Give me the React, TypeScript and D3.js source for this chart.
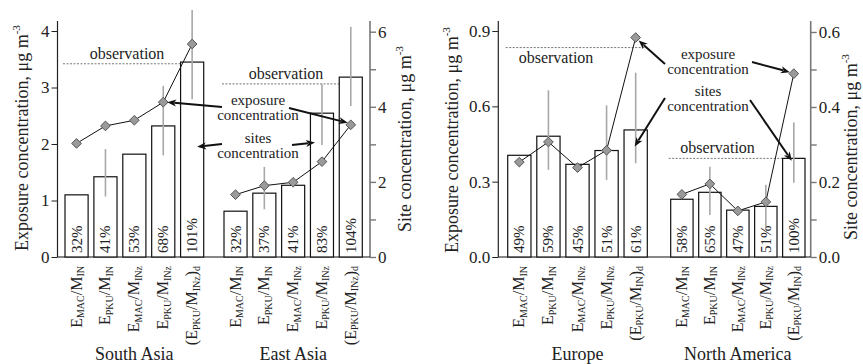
import * as d3 from "d3";
import { useEffect, useRef } from "react";

const W = 863;
const H = 364;
const FONT = "'Liberation Serif', 'Times New Roman', serif";

// category labels (markup: _{...} is a subscript)
const catsAsia = ["E_{MAC}/M_{IN}", "E_{PKU}/M_{IN}", "E_{MAC}/M_{INz}", "E_{PKU}/M_{INz}", "(E_{PKU}/M_{INz})_{d}"];
const catsEuNa = ["E_{MAC}/M_{IN}", "E_{PKU}/M_{IN}", "E_{MAC}/M_{INz}", "E_{PKU}/M_{INz}", "(E_{PKU}/M_{IN})_{d}"];

// South Asia (left axis)
const saSites = [1.1, 1.42, 1.82, 2.32, 3.45];
const saExposure = [2.01, 2.32, 2.42, 2.74, 3.77];
const saErrLo = [null, 1.07, null, 1.8, 2.79];
const saErrHi = [null, 1.91, null, 3.03, 4.37];
const saPct = ["32%", "41%", "53%", "68%", "101%"];
const saObs = 3.42;

// East Asia (right axis)
const eaSites = [1.22, 1.7, 1.91, 3.83, 4.79];
const eaExposure = [1.66, 1.9, 1.99, 2.54, 3.52];
const eaErrLo = [null, 1.27, null, 2.98, 4.02];
const eaErrHi = [null, 2.4, null, 4.61, 6.13];
const eaPct = ["32%", "37%", "41%", "83%", "104%"];
const eaObs = 4.61;

// Europe (left axis)
const euSites = [0.405, 0.481, 0.369, 0.424, 0.506];
const euExposure = [0.378, 0.458, 0.356, 0.425, 0.874];
const euErrLo = [null, 0.347, null, 0.307, 0.373];
const euErrHi = [null, 0.664, null, 0.604, 0.734];
const euPct = ["49%", "59%", "45%", "51%", "61%"];
const euObs = 0.834;

// North America (right axis)
const naSites = [0.154, 0.1725, 0.125, 0.135, 0.263];
const naExposure = [0.167, 0.195, 0.123, 0.147, 0.489];
const naErrLo = [null, 0.112, null, 0.081, 0.198];
const naErrHi = [null, 0.241, null, 0.193, 0.359];
const naPct = ["58%", "65%", "47%", "51%", "100%"];
const naObs = 0.263;

const leftTicksA = [0, 1, 2, 3, 4];
const rightTicksA = [0, 1, 2, 3, 4, 5, 6];
const rightLabelsA = [0, 2, 4, 6];
const leftTicksB = [0, 0.3, 0.6, 0.9];
const rightTicksB = [0, 0.1, 0.2, 0.3, 0.4, 0.5, 0.6];
const rightLabelsB = [0, 0.2, 0.4, 0.6];

const BASE = 257;

function richText(sel: any, str: string, big: number, small: number) {
  const parts = str.split(/(_\{[^}]*\})/).filter((s) => s.length);
  let prevSub = false;
  parts.forEach((p) => {
    const sub = p.startsWith("_{");
    const t = sub ? p.slice(2, -1) : p;
    const dy = sub && !prevSub ? 2.5 : !sub && prevSub ? -2.5 : 0;
    sel.append("tspan").attr("font-size", sub ? small : big).attr("dy", dy).text(t);
    prevSub = sub;
  });
}

function axisTitle(g: any, x: number, y: number, main: string, size: number) {
  const t = g
    .append("text")
    .attr("transform", `translate(${x},${y}) rotate(-90)`)
    .attr("text-anchor", "middle")
    .attr("font-size", size)
    .attr("fill", "#222");
  t.append("tspan").text(main);
  t.append("tspan").attr("font-size", size * 0.62).attr("dy", -size * 0.42).text("-3");
}

function drawGroup(g: any, grp: any, y: any) {
  const x = d3.scaleBand().domain(d3.range(5).map(String)).range(grp.range).paddingInner(0.2).paddingOuter(0);
  const bw = x.bandwidth();
  const cx = (i: number) => (x(String(i)) as number) + bw / 2;

  // observation line + label
  g.append("line")
    .attr("x1", grp.range[0] - 2)
    .attr("x2", grp.range[1])
    .attr("y1", y(grp.obs))
    .attr("y2", y(grp.obs))
    .attr("stroke", "#777")
    .attr("stroke-width", 1)
    .attr("stroke-dasharray", "2,1.5");
  g.append("text")
    .attr("x", grp.obsText[0])
    .attr("y", grp.obsText[1])
    .attr("text-anchor", "middle")
    .attr("font-size", 16)
    .attr("fill", "#222")
    .text("observation");

  // bars
  g.selectAll(null)
    .data(grp.sites)
    .join("rect")
    .attr("x", (_: any, i: number) => x(String(i)))
    .attr("y", (d: number) => y(d))
    .attr("width", bw)
    .attr("height", (d: number) => BASE - y(d))
    .attr("fill", "white")
    .attr("stroke", "#111")
    .attr("stroke-width", 1.2);

  // error bars
  grp.lo.forEach((lo: number | null, i: number) => {
    if (lo == null) return;
    g.append("line")
      .attr("x1", cx(i))
      .attr("x2", cx(i))
      .attr("y1", y(lo))
      .attr("y2", y(grp.hi[i]))
      .attr("stroke", "#a8a8a8")
      .attr("stroke-width", 1.6);
  });

  // percent labels
  grp.pct.forEach((p: string, i: number) => {
    g.append("text")
      .attr("transform", `translate(${cx(i) + 5},${BASE - 4}) rotate(-90)`)
      .attr("font-size", 15)
      .attr("fill", "#222")
      .text(p);
  });

  // category labels
  grp.cats.forEach((c: string, i: number) => {
    const t = g
      .append("text")
      .attr("transform", `translate(${cx(i) + 5},${BASE + 9}) rotate(-90)`)
      .attr("text-anchor", "end")
      .attr("fill", "#222");
    richText(t, c, 16, 10);
  });

  // group name
  g.append("text")
    .attr("x", (grp.range[0] + grp.range[1]) / 2)
    .attr("y", 360)
    .attr("text-anchor", "middle")
    .attr("font-size", 18)
    .attr("fill", "#222")
    .text(grp.name);

  // exposure line + diamonds
  const line = d3
    .line<number>()
    .x((_, i) => cx(i))
    .y((d) => y(d));
  g.append("path").attr("d", line(grp.exposure)).attr("fill", "none").attr("stroke", "#111").attr("stroke-width", 1);
  const sym = d3.symbol().type(d3.symbolDiamond2).size(60);
  g.selectAll(null)
    .data(grp.exposure)
    .join("path")
    .attr("d", sym)
    .attr("transform", (d: number, i: number) => `translate(${cx(i)},${y(d)})`)
    .attr("fill", "#9a9a9a")
    .attr("stroke", "#555")
    .attr("stroke-width", 1);

  return { cx, bw };
}

function arrow(g: any, from: [number, number], to: [number, number]) {
  const dx = to[0] - from[0];
  const dy = to[1] - from[1];
  const len = Math.hypot(dx, dy);
  const ux = dx / len;
  const uy = dy / len;
  const hl = 9;
  const hw = 3.6;
  const bx = to[0] - ux * hl;
  const by = to[1] - uy * hl;
  g.append("line")
    .attr("x1", from[0])
    .attr("y1", from[1])
    .attr("x2", bx + ux * 2)
    .attr("y2", by + uy * 2)
    .attr("stroke", "#111")
    .attr("stroke-width", 2);
  g.append("path")
    .attr(
      "d",
      `M${to[0]},${to[1]}L${bx - uy * hw},${by + ux * hw}L${bx + ux * 2.5},${by + uy * 2.5}L${bx + uy * hw},${by - ux * hw}Z`
    )
    .attr("fill", "#111");
}

function twoLines(g: any, x: number, y: number, a: string, b: string) {
  const t = g.append("text").attr("text-anchor", "middle").attr("font-size", 15).attr("fill", "#222");
  t.append("tspan").attr("x", x).attr("y", y).text(a);
  t.append("tspan").attr("x", x).attr("y", y + 15).text(b);
}

function drawPanel(svg: any, p: any) {
  const g = svg.append("g").attr("font-family", FONT);
  const yL = d3.scaleLinear().domain([0, p.lMax]).range([BASE, p.lTop]);
  const yR = d3.scaleLinear().domain([0, p.rMax]).range([BASE, p.rTop]);

  const gl = g.append("g").attr("transform", `translate(${p.xL},0)`);
  gl.call(d3.axisLeft(yL).tickValues(p.lTicks).tickSize(6).tickSizeOuter(0).tickPadding(2).tickFormat(p.lFmt));
  gl.attr("font-family", FONT);
  gl.select(".domain").remove();
  gl.append("line").attr("y1", BASE).attr("y2", 21).attr("stroke", "#222").attr("stroke-width", 1.2);
  gl.selectAll(".tick line").attr("stroke", "#222");
  gl.selectAll(".tick text").attr("font-size", 17).attr("font-family", FONT).attr("fill", "#222");

  const gr = g.append("g").attr("transform", `translate(${p.xR},0)`);
  gr.call(
    d3
      .axisRight(yR)
      .tickValues(p.rTicks)
      .tickSize(6)
      .tickSizeOuter(0)
      .tickPadding(2)
      .tickFormat((d: any) => (p.rLabels.includes(d) ? p.rFmt(d) : ""))
  );
  gr.attr("font-family", FONT);
  gr.select(".domain").remove();
  gr.append("line").attr("y1", BASE).attr("y2", 21).attr("stroke", "#777").attr("stroke-width", 1.6);
  gr.selectAll(".tick line").attr("stroke", "#777").attr("stroke-width", 1.4);
  gr.selectAll(".tick text").attr("font-size", 17).attr("font-family", FONT).attr("fill", "#222");

  g.append("line").attr("x1", p.xL).attr("x2", p.xR).attr("y1", BASE).attr("y2", BASE).attr("stroke", "#111").attr("stroke-width", 1.2);

  const a = drawGroup(g, p.groups[0], p.groups[0].axis === "l" ? yL : yR);
  const b = drawGroup(g, p.groups[1], p.groups[1].axis === "l" ? yL : yR);

  axisTitle(g, p.titleL[0], p.titleL[1], "Exposure concentration, \u03bcg m", 18);
  axisTitle(g, p.titleR[0], p.titleR[1], "Site concentration, \u03bcg m", 18);

  p.annot(g, a, b, yL, yR);
}

const panels = [
  {
    xL: 57.5,
    xR: 370,
    lMax: 4,
    lTop: 31,
    rMax: 6,
    rTop: 31.7,
    lTicks: leftTicksA,
    lFmt: d3.format("d"),
    rTicks: rightTicksA,
    rLabels: rightLabelsA,
    rFmt: d3.format("d"),
    titleL: [28, 138],
    titleR: [411, 139],
    groups: [
      { name: "South Asia", cats: catsAsia, sites: saSites, exposure: saExposure, lo: saErrLo, hi: saErrHi, pct: saPct, obs: saObs, axis: "l", range: [65, 203.7], obsText: [127, 59] },
      { name: "East Asia", cats: catsAsia, sites: eaSites, exposure: eaExposure, lo: eaErrLo, hi: eaErrHi, pct: eaPct, obs: eaObs, axis: "r", range: [224, 362.3], obsText: [286, 78.5] },
    ],
    annot: (g: any, a: any, b: any, yL: any, yR: any) => {
      twoLines(g, 258, 105, "exposure", "concentration");
      twoLines(g, 258, 143, "sites", "concentration");
      arrow(g, [222, 107], [a.cx(3) + 4, yL(saExposure[3])]);
      arrow(g, [289, 108], [b.cx(4) - 3, yR(eaExposure[4]) - 2]);
      arrow(g, [222, 144], [a.cx(4) + 5, yL(1.95)]);
      arrow(g, [292, 145], [b.cx(3) - 7, yR(3.05)]);
    },
  },
  {
    xL: 498.3,
    xR: 810.7,
    lMax: 0.9,
    lTop: 31,
    rMax: 0.6,
    rTop: 32,
    lTicks: leftTicksB,
    lFmt: d3.format(".1f"),
    rTicks: rightTicksB,
    rLabels: rightLabelsB,
    rFmt: d3.format(".1f"),
    titleL: [458, 140],
    titleR: [857, 147],
    groups: [
      { name: "Europe", cats: catsEuNa, sites: euSites, exposure: euExposure, lo: euErrLo, hi: euErrHi, pct: euPct, obs: euObs, axis: "l", range: [507.7, 647.3], obsText: [556, 63] },
      { name: "North America", cats: catsEuNa, sites: naSites, exposure: naExposure, lo: naErrLo, hi: naErrHi, pct: naPct, obs: naObs, axis: "r", range: [670.7, 805], obsText: [717.5, 152.5] },
    ],
    annot: (g: any, a: any, b: any, yL: any, yR: any) => {
      twoLines(g, 708, 59, "exposure", "concentration");
      twoLines(g, 708, 96, "sites", "concentration");
      arrow(g, [665, 64], [a.cx(4) + 3, yL(euExposure[4]) + 3]);
      arrow(g, [752, 62], [b.cx(4) - 4, yR(naExposure[4]) - 1.5]);
      arrow(g, [665, 98], [a.cx(4) - 1, yL(0.44)]);
      arrow(g, [750, 100], [b.cx(4) - 2, yR(0.27) + 5]);
    },
  },
];

export default function App() {
  const ref = useRef<SVGSVGElement | null>(null);
  useEffect(() => {
    const svg = d3.select(ref.current);
    svg.selectAll("*").remove();
    svg.append("rect").attr("width", W).attr("height", H).attr("fill", "white");
    panels.forEach((p) => drawPanel(svg, p));
  }, []);
  return <svg ref={ref} width={W} height={H} style={{ position: "absolute", left: 0, top: 0 }} />;
}
